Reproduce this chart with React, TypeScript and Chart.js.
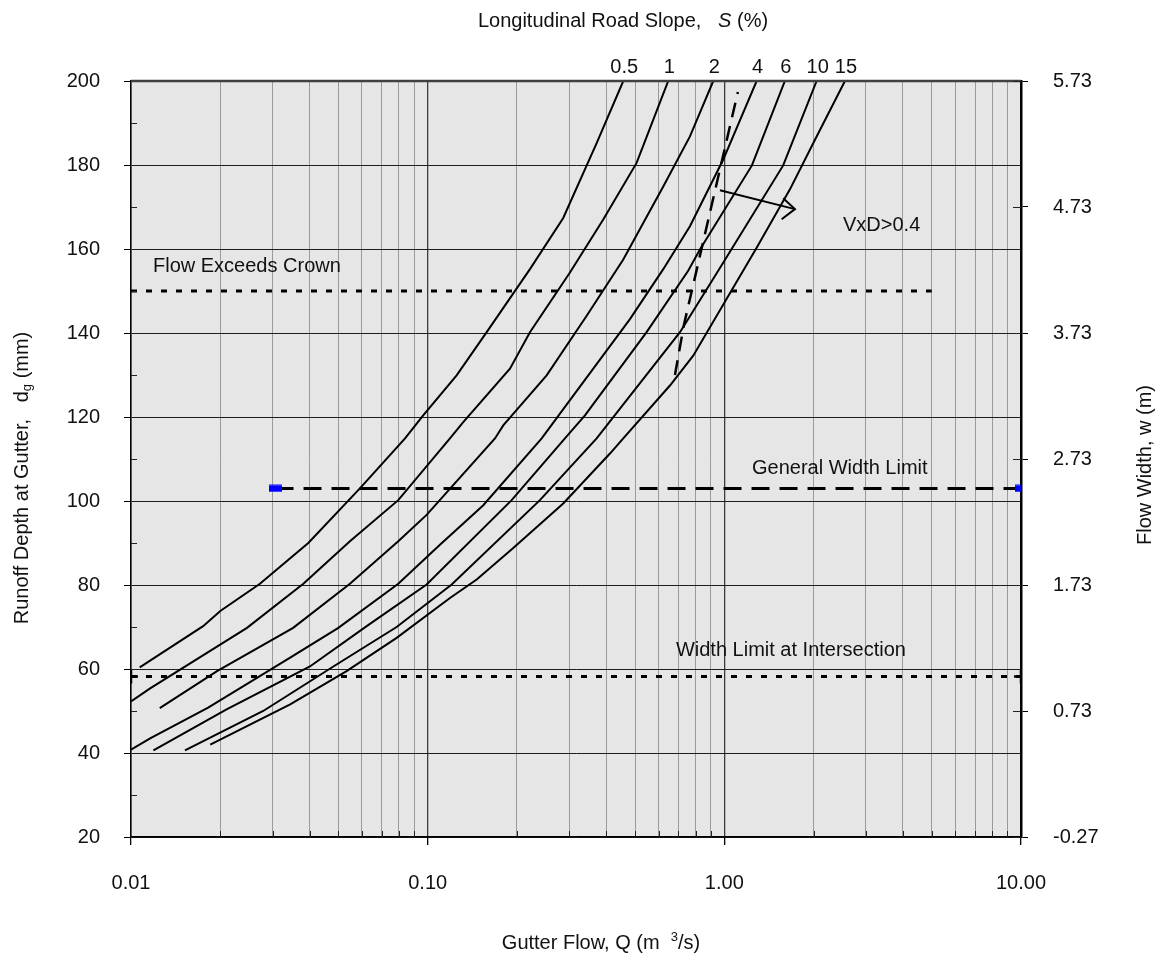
import React, { useEffect, useRef } from 'react';
import { Chart, registerables } from 'chart.js';

Chart.register(...registerables);

// ---------------- data ----------------
const slopeLabels = ['0.5', '1', '2', '4', '6', '10', '15'];

const qS05 = [0.0107, 0.0175, 0.0200, 0.0272, 0.0396, 0.0591, 0.0839, 0.0966, 0.1252, 0.1581, 0.2212, 0.2864, 0.3712, 0.4564];
const dS05 = [60.4, 70.2, 73.8, 80.3, 90.0, 103.0, 114.9, 120.4, 129.9, 140.2, 155.2, 167.4, 185.2, 200];

const qS1 = [0.0100, 0.0116, 0.0246, 0.0381, 0.0547, 0.0796, 0.1189, 0.1318, 0.1894, 0.2212, 0.3017, 0.3907, 0.5062, 0.6470];
const dS1 = [52.3, 55.4, 69.8, 80.3, 90.4, 100.2, 114.9, 118.8, 131.5, 140.2, 154.4, 167.0, 180.5, 200];

const qS2 = [0.0125, 0.0195, 0.0352, 0.0547, 0.0796, 0.0992, 0.1686, 0.1798, 0.2518, 0.3436, 0.4564, 0.6225, 0.7658, 0.9176];
const dS2 = [50.7, 59.5, 69.8, 80.3, 90.4, 96.7, 114.9, 118.0, 129.9, 144.1, 157.5, 174.9, 186.8, 200];

const qS4 = [0.0100, 0.0116, 0.0182, 0.0344, 0.0500, 0.0796, 0.1100, 0.1540, 0.2423, 0.3346, 0.4807, 0.6225, 0.7658, 0.9916, 1.285];
const dS4 = [40.8, 43.5, 50.8, 62.7, 69.8, 80.3, 89.6, 99.0, 114.9, 128.3, 143.3, 155.2, 165.4, 181.3, 200];

const qS6 = [0.0119, 0.0210, 0.0401, 0.0623, 0.0992, 0.1919, 0.2902, 0.3390, 0.5470, 0.7553, 0.8275, 1.239, 1.600];
const dS6 = [40.6, 50.4, 60.6, 70.2, 80.1, 100.2, 114.9, 120.4, 140.2, 154.8, 159.9, 179.9, 200];

const qS10 = [0.0152, 0.0279, 0.0481, 0.0786, 0.1205, 0.2390, 0.3712, 0.7088, 0.9537, 1.579, 2.047];
const dS10 = [40.6, 50.0, 60.6, 70.0, 80.1, 100.2, 114.9, 140.2, 154.8, 179.9, 200];

const qS15 = [0.0185, 0.0344, 0.0533, 0.0786, 0.1189, 0.1463, 0.1943, 0.2864, 0.4116, 0.4564, 0.6557, 0.7855, 1.285, 1.664, 2.047, 2.550];
const dS15 = [42.0, 51.6, 59.5, 67.4, 76.9, 81.3, 88.8, 99.4, 111.3, 114.9, 127.5, 134.6, 160.3, 174.2, 186.8, 200];

// VxD > 0.4 boundary (dashed) and arrow
const qVxD = [0.6816, 0.7306, 1.111];
const dVxD = [130.0, 141.9, 197.4];
const qArrow = [0.9665, 1.730];
const dArrow = [174.0, 169.5];
const qArrowHead = [1.579, 1.730, 1.560];
const dArrowHead = [172.1, 169.5, 167.1];

// limit lines
const qCrown = [0.01, 5];
const dCrown = [150, 150];
const qGeneral = [0.0307, 10];
const dGeneral = [103, 103];
const qIntersection = [0.01, 10];
const dIntersection = [58.2, 58.2];

// ticks
const xTicks = [0.01, 0.02, 0.03, 0.04, 0.05, 0.06, 0.07, 0.08, 0.09, 0.1, 0.2, 0.3, 0.4, 0.5, 0.6, 0.7, 0.8, 0.9, 1, 2, 3, 4, 5, 6, 7, 8, 9, 10];
const xTickLabels: Record<string, string> = { '0.01': '0.01', '0.1': '0.10', '1': '1.00', '10': '10.00' };
const yTicks = [20, 30, 40, 50, 60, 70, 80, 90, 100, 110, 120, 130, 140, 150, 160, 170, 180, 190, 200];
const y2Ticks = [-0.27, 0.73, 1.73, 2.73, 3.73, 4.73, 5.73];

// text annotations (anchors in data units)
const notes = [
  { text: 'Flow Exceeds Crown', q: 0.01186, d: 155.8, align: 'left' },
  { text: 'VxD>0.4', q: 3.39, d: 165.7, align: 'center' },
  { text: 'General Width Limit', q: 2.45, d: 107.8, align: 'center' },
  { text: 'Width Limit at Intersection', q: 1.677, d: 64.4, align: 'center' },
];

const FONT = "'Liberation Sans', Arial, Helvetica, sans-serif";
const W = 1147;
const H = 947;

const zip = (q: number[], d: number[]) => q.map((v, i) => ({ x: v, y: d[i] }));
const isDecade = (v: number) => Math.abs(Math.log10(v) - Math.round(Math.log10(v))) < 1e-6;

const curveQ = [qS05, qS1, qS2, qS4, qS6, qS10, qS15];
const curveD = [dS05, dS1, dS2, dS4, dS6, dS10, dS15];

const decoPlugin = {
  id: 'deco',
  beforeDraw(chart: any) {
    const { ctx, chartArea: a } = chart;
    ctx.save();
    ctx.fillStyle = '#ffffff';
    ctx.fillRect(0, 0, chart.width, chart.height);
    ctx.fillStyle = '#e6e6e6';
    ctx.fillRect(a.left, a.top, a.right - a.left, a.bottom - a.top);
    ctx.restore();
  },
  afterDraw(chart: any) {
    const { ctx, chartArea: a, scales } = chart;
    const xs = scales.x;
    const ys = scales.y;
    const y2 = scales.y2;
    const line = (x1: number, y1: number, x2: number, y2_: number) => {
      ctx.beginPath();
      ctx.moveTo(x1, y1);
      ctx.lineTo(x2, y2_);
      ctx.stroke();
    };
    ctx.save();
    // top border
    ctx.strokeStyle = '#404040';
    ctx.lineWidth = 2.5;
    line(a.left, a.top, a.right, a.top);
    // inside minor ticks
    ctx.strokeStyle = '#222';
    ctx.lineWidth = 1;
    xTicks.forEach((v) => {
      if (isDecade(v)) return;
      const px = Math.round(xs.getPixelForValue(v)) + 0.5;
      line(px, a.bottom, px, a.bottom - 6);
    });
    yTicks.forEach((v) => {
      if (v % 20 === 0) return;
      const py = Math.round(ys.getPixelForValue(v)) + 0.5;
      line(a.left, py, a.left + 6, py);
    });
    y2Ticks.forEach((v) => {
      const py = Math.round(y2.getPixelForValue(v)) + 0.5;
      line(a.right - 8, py, a.right, py);
    });

    ctx.fillStyle = '#111';
    ctx.font = `20px ${FONT}`;
    ctx.textBaseline = 'middle';
    // notes
    notes.forEach((n) => {
      ctx.textAlign = n.align as CanvasTextAlign;
      ctx.fillText(n.text, xs.getPixelForValue(n.q), ys.getPixelForValue(n.d));
    });
    // slope labels over curve ends
    ctx.textAlign = 'center';
    ctx.textBaseline = 'alphabetic';
    slopeLabels.forEach((s, i) => {
      const q = curveQ[i];
      const px = xs.getPixelForValue(q[q.length - 1]) + 1;
      ctx.fillText(s, px, a.top - 8);
    });

    // top title
    const part1 = 'Longitudinal Road Slope,   ';
    const part2 = 'S';
    const part3 = ' (%)';
    ctx.font = `20px ${FONT}`;
    const w1 = ctx.measureText(part1).width;
    const w3 = ctx.measureText(part3).width;
    ctx.font = `italic 20px ${FONT}`;
    const w2 = ctx.measureText(part2).width;
    let tx = 615 - (w1 + w2 + w3) / 2;
    ctx.textAlign = 'left';
    ctx.font = `20px ${FONT}`;
    ctx.fillText(part1, tx, 19);
    ctx.font = `italic 20px ${FONT}`;
    ctx.fillText(part2, tx + w1, 19);
    ctx.font = `20px ${FONT}`;
    ctx.fillText(part3, tx + w1 + w2, 19);

    // bottom title with superscript
    const b1 = 'Gutter Flow, Q (m  ';
    const b2 = '3';
    const b3 = '/s)';
    ctx.font = `20px ${FONT}`;
    const bw1 = ctx.measureText(b1).width;
    const bw3 = ctx.measureText(b3).width;
    ctx.font = `13px ${FONT}`;
    const bw2 = ctx.measureText(b2).width;
    tx = 593 - (bw1 + bw2 + bw3) / 2;
    const by = 941;
    ctx.font = `20px ${FONT}`;
    ctx.fillText(b1, tx, by);
    ctx.font = `13px ${FONT}`;
    ctx.fillText(b2, tx + bw1, by - 8);
    ctx.font = `20px ${FONT}`;
    ctx.fillText(b3, tx + bw1 + bw2, by);

    // left title (rotated) with subscript
    const l1 = 'Runoff Depth at Gutter,   d';
    const l2 = 'g';
    const l3 = ' (mm)';
    ctx.font = `20px ${FONT}`;
    const lw1 = ctx.measureText(l1).width;
    const lw3 = ctx.measureText(l3).width;
    ctx.font = `13px ${FONT}`;
    const lw2 = ctx.measureText(l2).width;
    ctx.save();
    ctx.translate(14, 470);
    ctx.rotate(-Math.PI / 2);
    ctx.textBaseline = 'middle';
    const lx = -(lw1 + lw2 + lw3) / 2;
    ctx.font = `20px ${FONT}`;
    ctx.fillText(l1, lx, 0);
    ctx.font = `13px ${FONT}`;
    ctx.fillText(l2, lx + lw1, 5);
    ctx.font = `20px ${FONT}`;
    ctx.fillText(l3, lx + lw1 + lw2, 0);
    ctx.restore();

    // right title
    ctx.save();
    ctx.translate(1137, 457);
    ctx.rotate(-Math.PI / 2);
    ctx.textAlign = 'center';
    ctx.textBaseline = 'middle';
    ctx.font = `20px ${FONT}`;
    ctx.fillText('Flow Width, w (m)', 0, 0);
    ctx.restore();

    ctx.restore();
  },
};

function makeBlueMarker() {
  const c = document.createElement('canvas');
  c.width = 13;
  c.height = 8;
  const g = c.getContext('2d')!;
  g.fillStyle = '#0000ff';
  g.fillRect(0, 0.5, 13, 7);
  return c;
}

export default function App() {
  const ref = useRef<HTMLCanvasElement | null>(null);

  useEffect(() => {
    if (!ref.current) return;
    const marker = makeBlueMarker();
    const curveSets = curveQ.map((q, i) => ({
      label: `S = ${slopeLabels[i]}%`,
      data: zip(q, curveD[i]),
      borderColor: '#000',
      borderWidth: 2,
      pointRadius: 0,
      showLine: true,
      tension: 0,
      fill: false,
    }));
    const chart = new Chart(ref.current, {
      type: 'scatter',
      data: {
        datasets: [
          ...curveSets,
          {
            label: 'VxD',
            data: zip(qVxD, dVxD),
            borderColor: '#000',
            borderWidth: 2.5,
            borderDash: [15, 9],
            pointRadius: 0,
            showLine: true,
          },
          {
            label: 'arrow',
            data: zip(qArrow, dArrow),
            borderColor: '#000',
            borderWidth: 2,
            pointRadius: 0,
            showLine: true,
          },
          {
            label: 'arrowhead',
            data: zip(qArrowHead, dArrowHead),
            borderColor: '#000',
            borderWidth: 2,
            pointRadius: 0,
            showLine: true,
          },
          {
            label: 'Flow Exceeds Crown',
            data: zip(qCrown, dCrown),
            borderColor: '#000',
            borderWidth: 3,
            borderDash: [6, 9],
            pointRadius: 0,
            showLine: true,
          },
          {
            label: 'General Width Limit',
            data: zip(qGeneral, dGeneral),
            borderColor: '#000',
            borderWidth: 3,
            borderDash: [18, 10],
            pointStyle: marker as any,
            pointRadius: 6,
            showLine: true,
          },
          {
            label: 'Width Limit at Intersection',
            data: zip(qIntersection, dIntersection),
            borderColor: '#000',
            borderWidth: 3,
            borderDash: [6, 9],
            pointStyle: 'cross',
            pointRadius: 7,
            pointBorderWidth: 2.5,
            pointBorderColor: '#000',
            showLine: true,
          },
        ],
      },
      options: {
        responsive: false,
        maintainAspectRatio: false,
        animation: false,
        layout: { padding: { top: 73, left: 0, right: 0, bottom: 0 } },
        plugins: { legend: { display: false }, tooltip: { enabled: false }, title: { display: false } },
        scales: {
          x: {
            type: 'logarithmic',
            position: 'bottom',
            min: 0.01,
            max: 10,
            afterBuildTicks: (s: any) => {
              s.ticks = xTicks.map((v) => ({ value: v }));
            },
            afterFit: (s: any) => {
              s.height = 118;
            },
            ticks: {
              autoSkip: false,
              maxRotation: 0,
              minRotation: 0,
              padding: 26,
              color: '#111',
              font: { family: FONT, size: 20 },
              callback: (v: any) => xTickLabels[String(Number(v))] ?? '',
            },
            grid: {
              color: (c: any) => (c.tick && isDecade(c.tick.value) ? '#3c3c3c' : '#9a9a9a'),
              lineWidth: (c: any) => (c.tick && isDecade(c.tick.value) ? 1.3 : 1),
              tickLength: 8,
              tickColor: (c: any) => (c.tick && isDecade(c.tick.value) ? '#000' : 'rgba(0,0,0,0)'),
            },
            border: { display: true, color: '#000', width: 1.5 },
          },
          y: {
            type: 'linear',
            position: 'left',
            min: 20,
            max: 200,
            afterBuildTicks: (s: any) => {
              s.ticks = yTicks.map((v) => ({ value: v }));
            },
            afterFit: (s: any) => {
              s.width = 123;
            },
            ticks: {
              autoSkip: false,
              padding: 24,
              color: '#111',
              font: { family: FONT, size: 20 },
              callback: (v: any) => (Number(v) % 20 === 0 ? String(v) : ''),
            },
            grid: {
              color: (c: any) => (c.tick && c.tick.value % 20 === 0 ? '#1e1e1e' : 'rgba(0,0,0,0)'),
              lineWidth: 1,
              tickLength: 7,
              tickColor: (c: any) => (c.tick && c.tick.value % 20 === 0 ? '#000' : 'rgba(0,0,0,0)'),
            },
            border: { display: true, color: '#000', width: 1.5 },
          },
          y2: {
            type: 'linear',
            position: 'right',
            min: -0.27,
            max: 5.73,
            afterBuildTicks: (s: any) => {
              s.ticks = y2Ticks.map((v) => ({ value: v }));
            },
            afterFit: (s: any) => {
              s.width = 134;
            },
            ticks: {
              autoSkip: false,
              padding: 25,
              color: '#111',
              font: { family: FONT, size: 20 },
              callback: (v: any) => Number(v).toFixed(2),
            },
            grid: { drawOnChartArea: false, tickLength: 7, tickColor: '#000' },
            border: { display: true, color: '#000', width: 2.5 },
          },
        },
      },
      plugins: [decoPlugin],
    } as any);
    return () => chart.destroy();
  }, []);

  return (
    <div style={{ width: W, height: H }}>
      <canvas ref={ref} width={W} height={H} style={{ display: 'block', width: W, height: H }} />
    </div>
  );
}
